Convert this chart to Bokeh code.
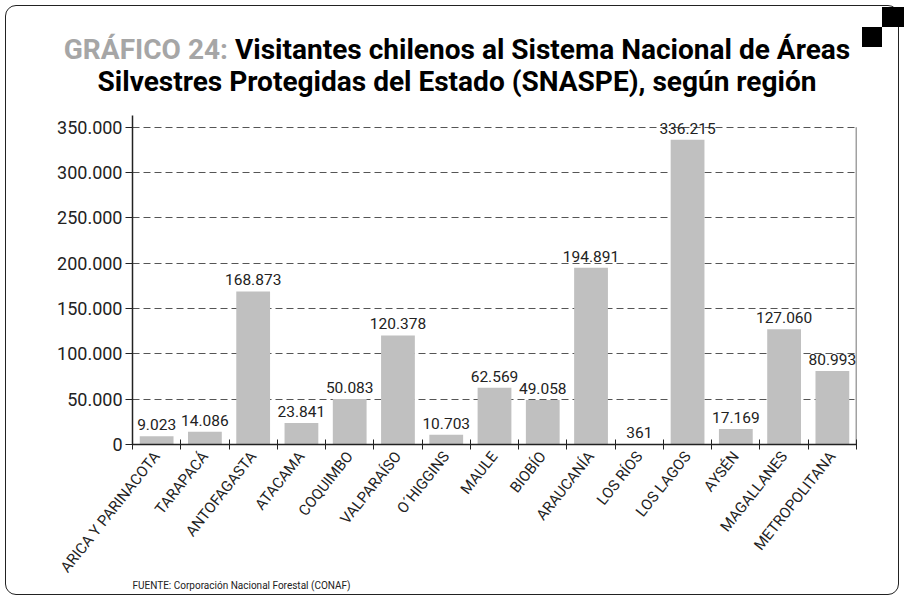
from bokeh.plotting import figure
from bokeh.layouts import column
from bokeh.models import (ColumnDataSource, FixedTicker, LabelSet, Title, Div,
                          Range1d)
from bokeh.embed import file_html
from bokeh.resources import INLINE
from bokeh.core.properties import value

# ---------------- data ----------------
regions = ["ARICA Y PARINACOTA", "TARAPACÁ", "ANTOFAGASTA", "ATACAMA", "COQUIMBO",
           "VALPARAÍSO", "O´HIGGINS", "MAULE", "BIOBÍO", "ARAUCANÍA", "LOS RÍOS",
           "LOS LAGOS", "AYSÉN", "MAGALLANES", "METROPOLITANA"]
visitors = [9023, 14086, 168873, 23841, 50083, 120378, 10703, 62569, 49058,
            194891, 361, 336215, 17169, 127060, 80993]
y_ticks = [0, 50000, 100000, 150000, 200000, 250000, 300000, 350000]
y_tick_labels = ["0", "50.000", "100.000", "150.000", "200.000", "250.000",
                 "300.000", "350.000"]
title_lead = "GRÁFICO 24:"
title_line1 = "Visitantes chilenos al Sistema Nacional de Áreas"
title_line2 = "Silvestres Protegidas del Estado (SNASPE), según región"
source_note = "FUENTE: Corporación Nacional Forestal (CONAF)"

FONT = "Roboto"
W, H = 904, 600
HEAD = 108                            # header height (page pixels)
FL, FR, FT, FB = 132, 856, 115, 444   # frame edges (page pixels)
PH = H - HEAD                         # figure height

n = len(regions)
xs = [i + 0.5 for i in range(n)]
labels = [f"{v:,}".replace(",", ".") for v in visitors]
src = ColumnDataSource(dict(x=xs, top=visitors, label=labels))

p = figure(width=W, height=PH, x_range=Range1d(0, n), y_range=Range1d(0, 363000),
           output_backend="svg", toolbar_location=None,
           min_border_left=FL, min_border_right=W - FR, min_border_top=FT - HEAD,
           min_border_bottom=H - FB)
p.outline_line_color = None
p.background_fill_color = "white"
p.border_fill_alpha = 0

p.vbar(x="x", top="top", width=0.7, source=src, fill_color="#c0c0c0",
       line_color=None)

# right frame line
p.segment(x0=[n], y0=[0], x1=[n], y1=[y_ticks[-1]], line_color="#444444",
          line_width=1.5)

# x axis
xax = p.xaxis[0]
xax.ticker = FixedTicker(ticks=xs, minor_ticks=list(range(n + 1)))
xax.major_label_overrides = {x: r for x, r in zip(xs, regions)}
xax.major_tick_in = 0
xax.major_tick_out = 0
xax.minor_tick_in = 5
xax.minor_tick_out = 5
xax.minor_tick_line_color = "#222222"
xax.axis_line_color = "#222222"
xax.axis_line_width = 1.5
xax.major_label_orientation = 0.9
xax.major_label_standoff = 4
xax.major_label_text_font = FONT
xax.major_label_text_font_size = "15px"
xax.major_label_text_color = "#222222"

# y axis
yax = p.yaxis[0]
yax.ticker = FixedTicker(ticks=y_ticks)
yax.major_label_overrides = {t: l for t, l in zip(y_ticks, y_tick_labels)}
yax.major_tick_in = 0
yax.major_tick_out = 7
yax.minor_tick_in = 0
yax.minor_tick_out = 0
yax.major_tick_line_color = "#222222"
yax.axis_line_color = "#222222"
yax.axis_line_width = 1.5
yax.major_label_standoff = 3
yax.major_label_text_font = FONT
yax.major_label_text_font_size = "18px"
yax.major_label_text_color = "#222222"

p.xgrid.visible = False
p.ygrid.ticker = FixedTicker(ticks=y_ticks)
p.ygrid.grid_line_color = "#555555"
p.ygrid.grid_line_dash = "7 4"
p.ygrid.grid_line_width = 1

p.add_layout(LabelSet(x="x", y="top", text="label", source=src,
                      text_align="center", text_baseline="alphabetic", y_offset=6,
                      text_font=value(FONT), text_font_size="15.5px",
                      text_color="#222222"))

# source note below the axis (pulled up next to the rotated labels)
p.add_layout(Title(text=source_note, align="left", text_font=FONT,
                   text_font_style="normal", text_font_size="10px",
                   text_color="#222222", standoff=-13, offset=0), "below")

# ---------------- header (title + corner squares) ----------------
F1 = 27.3
SX = 1.027
line_css = (f"position:absolute;left:457px;white-space:nowrap;font-weight:bold;"
            f"font-size:{F1}px;line-height:24px;color:#000;"
            f"transform:translateX(-50%) scaleX({SX});")
head_html = f"""
<div style="position:relative;width:{W}px;height:{HEAD}px;font-family:Roboto;">
  <div style="position:absolute;left:862px;top:27px;width:20px;height:20px;background:#000;"></div>
  <div style="position:absolute;left:882px;top:7px;width:22px;height:20px;background:#000;"></div>
  <div style="{line_css}top:37.7px;"><span style="color:#a6a6a6;">{title_lead}</span> {title_line1}</div>
  <div style="{line_css}top:69.7px;">{title_line2}</div>
</div>
"""
head = Div(text=head_html, width=W, height=HEAD, margin=0)

layout = column(head, p, spacing=0, margin=0,
                styles={"outline": "1.2px solid #222222", "outline-offset": "-6px",
                        "border-radius": "16px"})

open("out.html", "w").write(file_html(layout, INLINE))
